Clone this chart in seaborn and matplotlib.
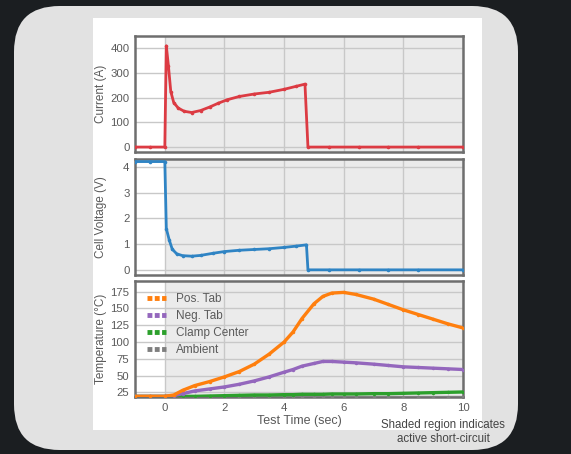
import matplotlib
matplotlib.use("Agg")
import matplotlib.pyplot as plt
from matplotlib.patches import FancyBboxPatch, Rectangle
import seaborn as sns
import pandas as pd

# ---------------- data ----------------
cur_t = [-1.0, -0.5, 0.0, 0.05, 0.12, 0.2, 0.3, 0.45, 0.65, 0.9, 1.2, 1.5, 1.8, 2.1, 2.5, 3.0, 3.5, 4.0, 4.4, 4.7, 4.8, 5.5, 6.5, 7.5, 8.5, 10.0]
cur_a = [0, 0, 0, 410, 330, 225, 180, 158, 145, 140, 148, 162, 178, 192, 205, 215, 222, 234, 246, 255, 0, 0, 0, 0, 0, 0]

volt_t = [-1.0, -0.5, 0.0, 0.05, 0.15, 0.25, 0.4, 0.6, 0.9, 1.2, 1.6, 2.0, 2.5, 3.0, 3.5, 4.0, 4.4, 4.75, 4.8, 5.5, 6.5, 7.5, 8.5, 10.0]
volt_v = [4.2, 4.2, 4.2, 1.6, 1.15, 0.8, 0.62, 0.55, 0.53, 0.56, 0.64, 0.71, 0.76, 0.79, 0.82, 0.87, 0.92, 0.97, 0.0, 0.0, 0.0, 0.0, 0.0, 0.0]

temp_t = [-1.0, -0.5, 0.0, 0.3, 0.6, 1.0, 1.5, 2.0, 2.5, 3.0, 3.5, 4.0, 4.3, 4.6, 5.0, 5.3, 5.6, 6.0, 6.4, 7.0, 7.5, 8.0, 8.5, 9.0, 9.5, 10.0]
pos_tab = [19, 19, 19, 21, 28, 35, 41, 48, 56, 67, 82, 100, 115, 135, 157, 168, 173, 174, 171, 164, 156, 148, 141, 134, 127, 121]
neg_tab = [19, 19, 19, 20, 23, 27, 30, 33, 37, 42, 48, 55, 59, 64, 68, 71, 71, 70, 69, 67, 65, 63, 62, 61, 60, 59]
clamp_ctr = [19, 19, 19, 19, 19, 19, 19.5, 20, 20.5, 21, 21, 21.5, 21.5, 22, 22, 22, 22.5, 22.5, 22.5, 23, 23, 23.5, 24, 24.5, 25, 25.5]
ambient = [18.5] * len(temp_t)

series_names = ["Pos. Tab", "Neg. Tab", "Clamp Center", "Ambient"]
series_vals = [pos_tab, neg_tab, clamp_ctr, ambient]
series_cols = ["#ff7f0e", "#9467bd", "#2ca02c", "#7f7f7f"]

x_ticks = [0, 2, 4, 6, 8, 10]
cur_ticks = [0, 100, 200, 300, 400]
volt_ticks = [0, 1, 2, 3, 4]
temp_ticks = [25, 50, 75, 100, 125, 150, 175]

# ---------------- figure ----------------
sns.set_theme(style="white")
plt.rcParams["font.family"] = ["Liberation Sans", "DejaVu Sans"]

W, H = 571, 454
fig = plt.figure(figsize=(W / 100, H / 100), dpi=100)
fig.patch.set_facecolor("#1b1e21")

def fx(x):
    return x / W

def fy(y):
    return 1 - y / H

# rounded card
card = FancyBboxPatch((fx(14), fy(450)), fx(504), 444 / H,
                      boxstyle="round,pad=0,rounding_size=0.08",
                      transform=fig.transFigure, facecolor="#e2e2e2",
                      edgecolor="none", mutation_aspect=W / H, zorder=-5)
fig.patches.append(card)
# white panel
fig.patches.append(Rectangle((fx(93), fy(430)), fx(389), 412 / H,
                             transform=fig.transFigure, facecolor="white",
                             edgecolor="none", zorder=-4))

left, right = 135, 463
tops = [36, 159, 281]
height = 116
axes = []
for t in tops:
    ax = fig.add_axes([fx(left), fy(t + height), fx(right - left), height / H])
    axes.append(ax)

txt_col = "#5a5a5a"
for ax in axes:
    ax.set_xlim(-1, 10)
    ax.set_facecolor("white")
    ax.axvspan(0, 10, color="#ebebeb", zorder=0, lw=0)
    ax.set_xticks(x_ticks)
    ax.grid(True, color="#c8c8c8", lw=1.0, zorder=1)
    ax.set_axisbelow(True)
    for s in ax.spines.values():
        s.set_color("#6e6e6e")
        s.set_linewidth(1.8)
    ax.tick_params(axis="both", length=0, labelsize=8.2, colors=txt_col, pad=4)

ax1, ax2, ax3 = axes
for ax in (ax1, ax2):
    ax.tick_params(labelbottom=False)

df_cur = pd.DataFrame({"t": cur_t, "v": cur_a})
sns.lineplot(data=df_cur, x="t", y="v", ax=ax1, color="#dc3b43", lw=2.0,
             marker="o", markersize=2.6, markeredgewidth=0, zorder=3)
ax1.set_ylim(-20, 450)
ax1.set_yticks(cur_ticks)
ax1.set_ylabel("Current (A)", color=txt_col, fontsize=8.5)

df_v = pd.DataFrame({"t": volt_t, "v": volt_v})
sns.lineplot(data=df_v, x="t", y="v", ax=ax2, color="#2f84c4", lw=2.0,
             marker="o", markersize=2.6, markeredgewidth=0, zorder=3)
ax2.set_ylim(-0.2, 4.3)
ax2.set_yticks(volt_ticks)
ax2.set_ylabel("Cell Voltage (V)", color=txt_col, fontsize=8.5)

for name, vals, col in zip(series_names[::-1], series_vals[::-1], series_cols[::-1]):
    d = pd.DataFrame({"t": temp_t, "v": vals})
    sns.lineplot(data=d, x="t", y="v", ax=ax3, color=col, lw=2.4,
                 marker="o", markersize=2.5, markeredgewidth=0, zorder=3, label=name)
ax3.set_ylim(18, 191)
ax3.set_yticks(temp_ticks)
ax3.set_ylabel("Temperature (°C)", color=txt_col, fontsize=8.5)
ax3.set_xlabel("Test Time (sec)", color=txt_col, fontsize=9, labelpad=2)
ax1.set_xlabel("")
ax2.set_xlabel("")

lab_x = (107 - left) / (right - left)
for ax in axes:
    ax.yaxis.set_label_coords(lab_x, 0.5)

h, l = ax3.get_legend_handles_labels()
leg = ax3.legend(h[::-1], l[::-1], loc="upper left", frameon=False, fontsize=8.5,
                 handlelength=1.6, handletextpad=0.9, labelspacing=0.42,
                 borderaxespad=0.6)
for tx in leg.get_texts():
    tx.set_color(txt_col)
for ln in leg.get_lines():
    ln.set_linewidth(3.5)
    ln.set_dashes([1, 0.5])
    ln.set_marker("")

fig.text(fx(443), fy(432), "Shaded region indicates\nactive short-circuit",
         ha="center", va="center", fontsize=8.3, color="#444444", linespacing=1.25)

fig.savefig("out.png", dpi=100, facecolor=fig.get_facecolor())
